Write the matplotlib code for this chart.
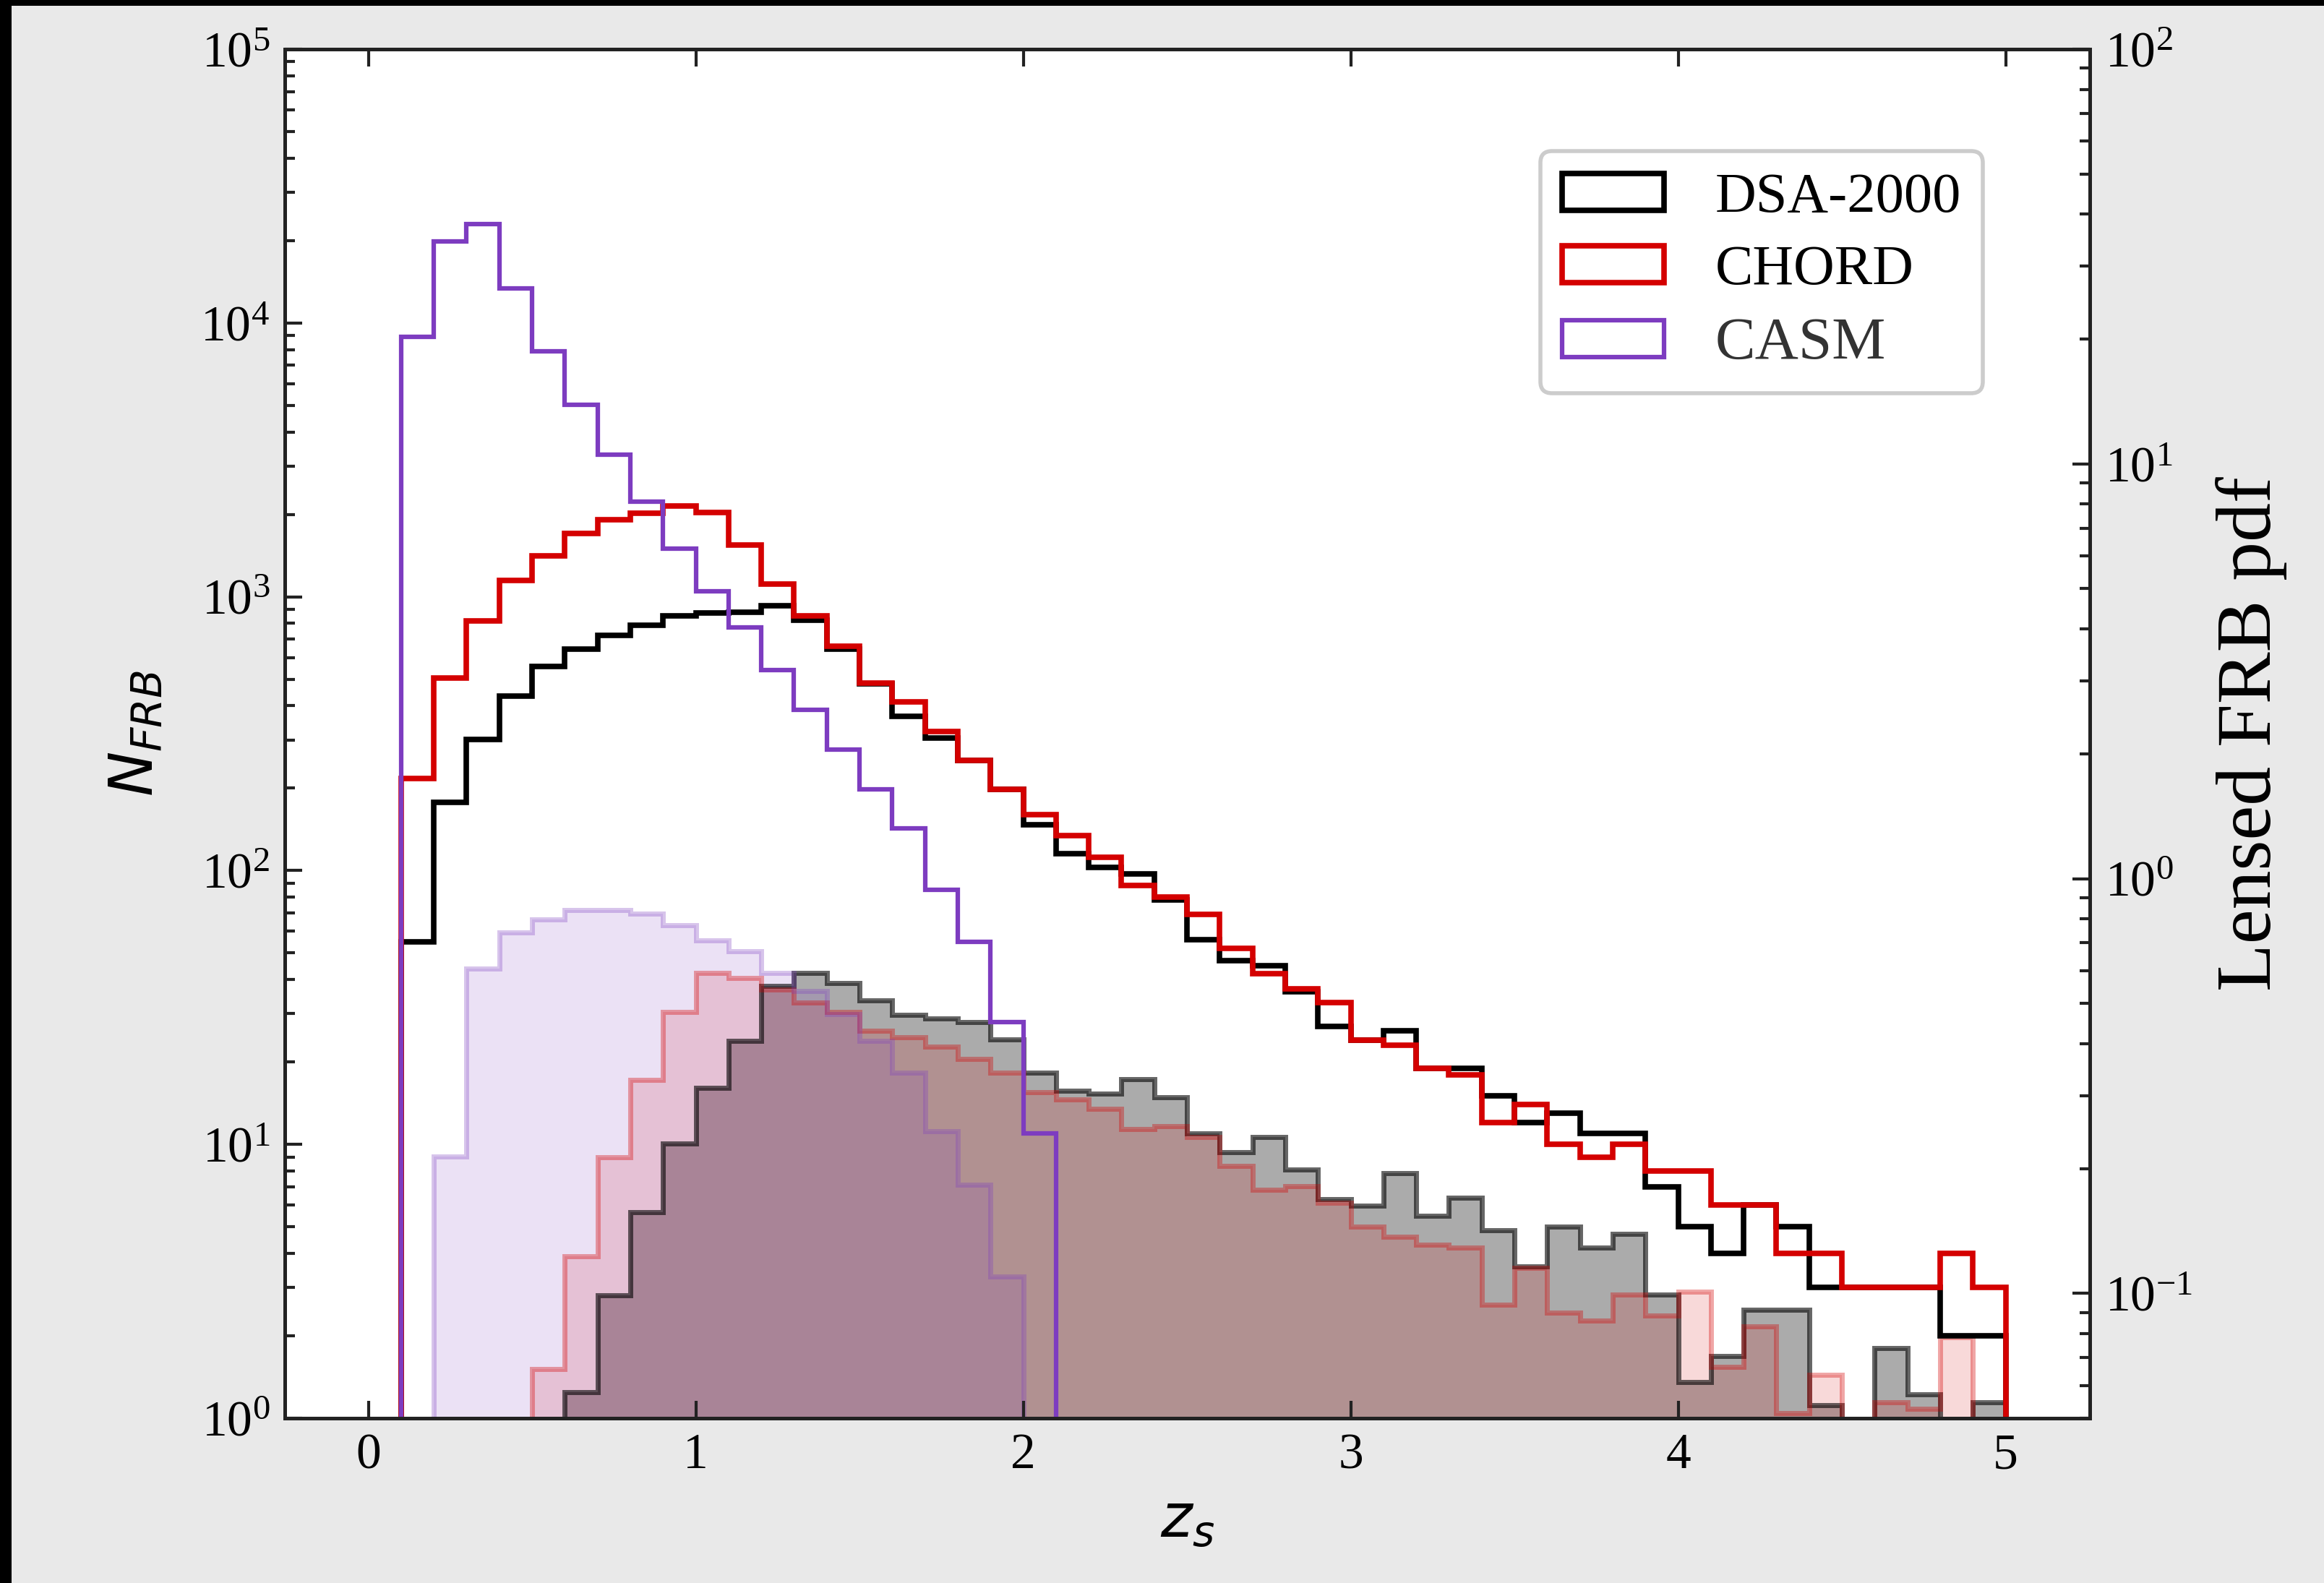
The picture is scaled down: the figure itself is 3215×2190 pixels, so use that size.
import numpy as np
import matplotlib
matplotlib.use("Agg")
import matplotlib.pyplot as plt
from matplotlib.patches import Rectangle

# ---------------- data ----------------
bin_edges = np.round(np.arange(0.0, 5.0001, 0.1), 2)
bin_centers = 0.5 * (bin_edges[:-1] + bin_edges[1:])

# FRB counts per redshift bin (left axis)
dsa_counts = [0, 55, 178, 302, 433, 555, 643, 722, 789, 851,
              871, 880, 930, 823, 645, 480, 365, 305, 253, 198,
              147, 115, 103, 97, 78, 56, 47, 45, 36, 27,
              24, 26, 19, 19, 15, 12, 13, 11, 11, 7,
              5, 4, 6, 5, 3, 3, 3, 3, 2, 2]
chord_counts = [0, 217, 506, 818, 1145, 1409, 1700, 1914, 2025, 2150,
                2030, 1549, 1115, 851, 658, 485, 412, 323, 253, 198,
                160, 134, 112, 88, 80, 69, 52, 42, 37, 33,
                24, 23, 19, 18, 12, 14, 10, 9, 10, 8,
                8, 6, 6, 4, 4, 3, 3, 3, 4, 3]
casm_counts = [0, 8900, 19800, 23000, 13400, 7900, 5030, 3310, 2230, 1500,
               1047, 771, 540, 386, 276, 198, 143, 85, 55, 28,
               11, 0, 0, 0, 0, 0, 0, 0, 0, 0,
               0, 0, 0, 0, 0, 0, 0, 0, 0, 0,
               0, 0, 0, 0, 0, 0, 0, 0, 0, 0]

# lensed FRB pdf per bin (right axis)
dsa_lensed = [0, 0, 0, 0, 0, 0, 0.0578, 0.0988, 0.157, 0.230,
              0.313, 0.407, 0.551, 0.593, 0.560, 0.508, 0.470, 0.460, 0.450, 0.410,
              0.340, 0.308, 0.303, 0.328, 0.297, 0.243, 0.219, 0.238, 0.199, 0.169,
              0.163, 0.195, 0.154, 0.170, 0.142, 0.116, 0.145, 0.129, 0.139, 0.0995,
              0.0611, 0.0706, 0.0912, 0.0912, 0.0537, 0, 0.0738, 0.0570, 0, 0.0546]
chord_lensed = [0, 0, 0, 0, 0, 0.0656, 0.123, 0.213, 0.327, 0.477,
                0.593, 0.575, 0.540, 0.502, 0.477, 0.429, 0.415, 0.394, 0.367, 0.340,
                0.306, 0.293, 0.279, 0.249, 0.253, 0.238, 0.203, 0.178, 0.181, 0.165,
                0.145, 0.137, 0.131, 0.129, 0.0938, 0.115, 0.0897, 0.0859, 0.0995, 0.0883,
                0.101, 0.0664, 0.0832, 0.0514, 0.0637, 0, 0.0546, 0.0526, 0.0783, 0]
casm_lensed = [0, 0, 0.214, 0.607, 0.743, 0.796, 0.839, 0.839, 0.822, 0.771,
               0.709, 0.669, 0.593, 0.535, 0.471, 0.407, 0.340, 0.246, 0.183, 0.110,
               0, 0, 0, 0, 0, 0, 0, 0, 0, 0,
               0, 0, 0, 0, 0, 0, 0, 0, 0, 0,
               0, 0, 0, 0, 0, 0, 0, 0, 0, 0]

labels = ["DSA-2000", "CHORD", "CASM"]
x_ticks = [0, 1, 2, 3, 4, 5]

# ---------------- style ----------------
plt.rcParams["font.family"] = ["Liberation Serif", "DejaVu Serif"]
plt.rcParams["mathtext.fontset"] = "dejavusans"

c_dsa = "black"
c_chord = "#d40000"
c_casm = "#7d3cc0"

fig = plt.figure(figsize=(6.43, 4.38), dpi=500, facecolor="#e9e9e9")
# black frame strips (left and top) of the screenshot
fig.patches.append(Rectangle((0, 0), 16 / 3215, 1, transform=fig.transFigure,
                             facecolor="black", edgecolor="none", zorder=10))
fig.patches.append(Rectangle((0, 1 - 8 / 2190), 1, 8 / 2190, transform=fig.transFigure,
                             facecolor="black", edgecolor="none", zorder=10))

ax = fig.add_axes([394 / 3215, 1 - 1962 / 2190, 2497 / 3215, 1894 / 2190])
ax.set_facecolor("white")

ax.hist(bin_centers, bins=bin_edges, weights=dsa_counts, histtype="step",
        color=c_dsa, lw=1.1, label=labels[0], log=True)
ax.hist(bin_centers, bins=bin_edges, weights=chord_counts, histtype="step",
        color=c_chord, lw=1.1, label=labels[1], log=True)
ax.hist(bin_centers, bins=bin_edges, weights=casm_counts, histtype="step",
        color=c_casm, lw=0.9, label=labels[2], log=True)

ax.set_xlim(-0.255, 5.257)
ax.set_ylim(1, 1e5)
ax.set_xticks(x_ticks)
ax.set_xticklabels([str(t) for t in x_ticks])
ax.tick_params(axis="both", which="both", direction="in", labelsize=10,
               top=True, right=False, width=0.6, colors="#222222", labelcolor="black")
ax.tick_params(axis="x", which="major", length=3.5, pad=3)
ax.tick_params(axis="y", which="major", length=3.5, pad=3)
ax.minorticks_off()
ax.yaxis.set_minor_locator(matplotlib.ticker.LogLocator(base=10, subs=np.arange(2, 10) * 1.0, numticks=20))
ax.yaxis.set_minor_formatter(matplotlib.ticker.NullFormatter())
ax.tick_params(axis="y", which="minor", direction="in", length=2.0, width=0.6, left=True, right=False)

for sp in ax.spines.values():
    sp.set_linewidth(0.7)
    sp.set_color("#222222")

ax.set_ylabel(r"$N_{FRB}$", fontsize=12)
ax.yaxis.set_label_coords(-0.066, 0.5)
ax.set_xlabel(r"$z_s$", fontsize=12)
ax.xaxis.set_label_coords(0.5, -0.057)

ax2 = ax.twinx()
fill_alpha = [0.33, 0.15, 0.15]
edge_alpha = [0.6, 0.35, 0.3]
for vals, col, fa, ea in zip([dsa_lensed, chord_lensed, casm_lensed],
                             [c_dsa, c_chord, c_casm], fill_alpha, edge_alpha):
    ax2.hist(bin_centers, bins=bin_edges, weights=vals, histtype="stepfilled",
             color=col, alpha=fa, linewidth=0, log=True)
    ax2.hist(bin_centers, bins=bin_edges, weights=vals, histtype="step",
             color=col, alpha=ea, lw=1.0, log=True)
ax2.set_ylim(0.05, 100)
ax2.tick_params(axis="y", which="both", direction="in", labelsize=10, width=0.6,
                colors="#222222", labelcolor="black", pad=3)
ax2.tick_params(axis="y", which="major", length=3.5)
ax2.tick_params(axis="y", which="minor", length=2.0)
ax2.set_ylabel("Lensed FRB pdf", fontsize=15.5)
ax2.yaxis.set_label_coords(1.0697, 0.5)
for sp in ax2.spines.values():
    sp.set_linewidth(0.7)
    sp.set_color("#222222")

leg = ax.legend(loc="upper right", bbox_to_anchor=(0.9407, 0.9256), borderaxespad=0,
                fontsize=11.3, frameon=True, fancybox=True, framealpha=1,
                edgecolor="#cccccc", handlelength=1.8, handleheight=0.62,
                handletextpad=0.9, labelspacing=0.36, borderpad=0.38)
leg.get_frame().set_linewidth(0.8)
leg.set_zorder(20)
texts = leg.get_texts()
texts[2].set_color("#333333")
texts[2].set_fontsize(12)

# keep legend above the twin axes
ax.set_zorder(ax2.get_zorder() + 1)
ax.patch.set_visible(False)
ax2.patch.set_visible(True)
ax2.patch.set_facecolor("white")

fig.savefig("out.png", dpi=500, facecolor=fig.get_facecolor())
